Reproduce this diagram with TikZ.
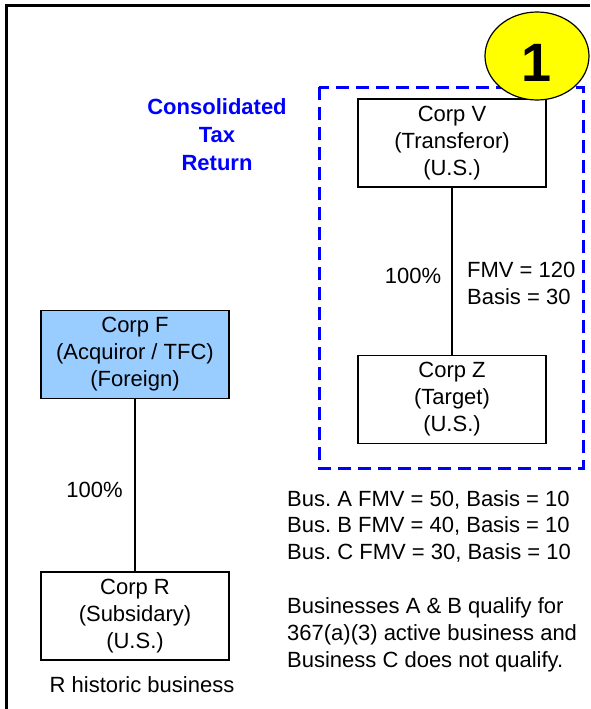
\documentclass[tikz,border=0pt]{standalone}
\usepackage{fontspec}
\setmainfont{Liberation Sans}
\frenchspacing
\usetikzlibrary{shapes.geometric}
\tikzset{corp/.style = {draw, line width = 1.4, minimum width = 188, minimum height = 88, align = center, inner sep = 0, font = \fontsize{22}{27}\selectfont}}
\tikzset{txt/.style = {inner sep = 0, font = \fontsize{22}{27}\selectfont}}
\tikzset{consol/.style = {cblue, line width = 3, dash pattern = on 13 off 7}}
\tikzset{badge/.style = {ellipse, draw, fill = badgey, line width = 1.2, minimum width = 104, minimum height = 88, inner sep = 0, font = \fontsize{54}{54}\selectfont\bfseries}}
\definecolor{fblue}{RGB}{153, 204, 255}
\definecolor{cblue}{RGB}{0, 0, 255}
\definecolor{badgey}{RGB}{255, 255, 0}

\begin{document}
\begin{tikzpicture}[x = 1pt, y = -1pt]
    \useasboundingbox (0, 0) rectangle (590, 709);
    \draw [line width = 2.5] (590, 5.5) -- (6.5, 5.5) -- (6.5, 709);

    % consolidated group
    \draw [consol] (319, 87) rectangle (583, 468);
    \node [txt, align = center, text = cblue, font = \fontsize{22}{28}\selectfont\bfseries] (ret) at (217, 135) {Consolidated\\Tax\\Return};

    \node [corp] (v) at (452, 143) {Corp V\\(Transferor)\\(U.S.)};
    \node [corp] (z) at (452, 399.5) {Corp Z\\(Target)\\(U.S.)};
    \draw [line width = 1.2] (v) -- (z);
    \node [txt, anchor = base] (pv) at (413, 283) {100\%};
    \node [txt, anchor = base west] (fmv) at (467, 277) {FMV = 120};
    \node [txt, anchor = base west] (basis) at (467, 304) {Basis = 30};

    \node [badge] (one) at (537, 56) {\raisebox{-25.5pt}[0pt][0pt]{1}};

    % foreign acquiror
    \node [corp, fill = fblue] (f) at (135, 354.5) {Corp F\\(Acquiror / TFC)\\(Foreign)};
    \node [corp] (r) at (135, 616) {Corp R\\(Subsidary)\\(U.S.)};
    \draw [line width = 1.2] (f) -- (r);
    \node [txt, anchor = base] (pf) at (94.5, 497) {100\%};
    \node [txt, anchor = base] (hist) at (142, 692) {R historic business};

    % businesses
    \node [txt, anchor = base west] (busa) at (287, 506) {Bus. A FMV = 50, Basis = 10};
    \node [txt, anchor = base west] (busb) at (287, 532.5) {Bus. B FMV = 40, Basis = 10};
    \node [txt, anchor = base west] (busc) at (287, 559) {Bus. C FMV = 30, Basis = 10};
    \node [txt, anchor = base west] (qa) at (287, 613) {Businesses A \& B qualify for};
    \node [txt, anchor = base west] (qb) at (287, 640) {367(a)(3) active business and};
    \node [txt, anchor = base west] (qc) at (287, 667) {Business C does not qualify.};
\end{tikzpicture}
\end{document}
